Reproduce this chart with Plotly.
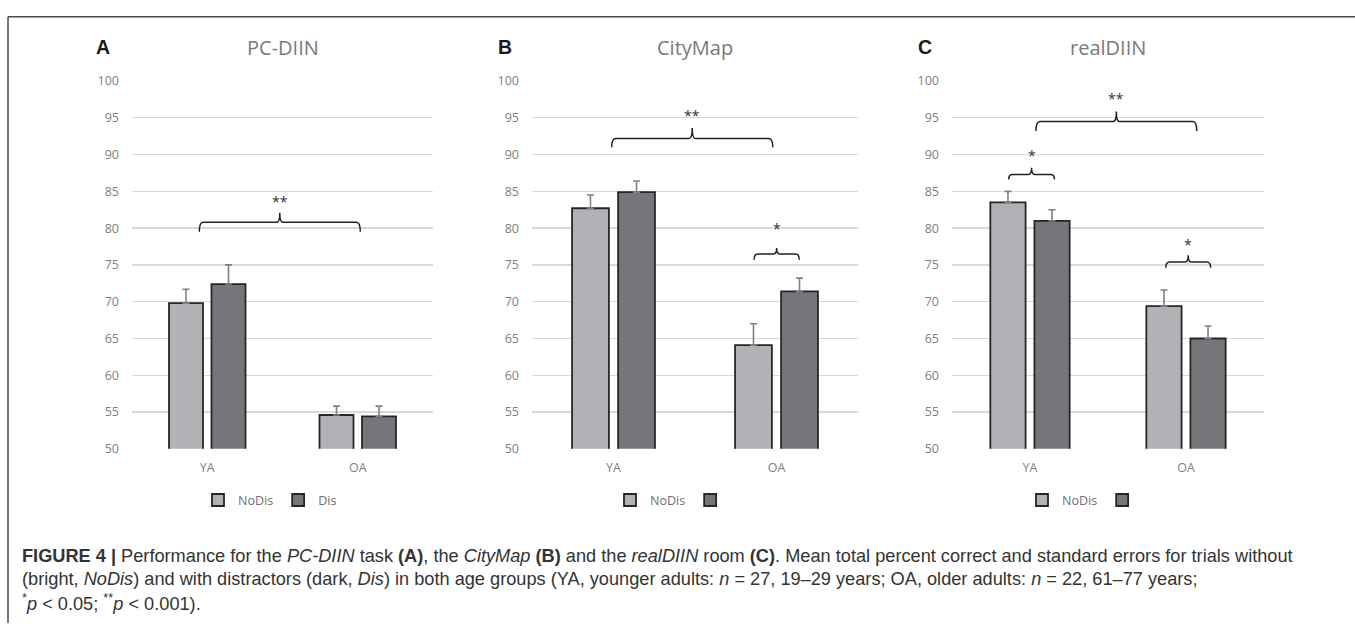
import plotly.graph_objects as go

# ---------------- data ----------------
groups = ["YA", "OA"]
group_pos = [0, 1]
y_ticks = [50, 55, 60, 65, 70, 75, 80, 85, 90, 95, 100]
panel_titles = ["PC-DIIN", "CityMap", "realDIIN"]
panel_letters = ["A", "B", "C"]

pc_nodis = [69.8, 54.6]
pc_nodis_se = [1.9, 1.2]
pc_dis = [72.4, 54.4]
pc_dis_se = [2.6, 1.4]

city_nodis = [82.7, 64.1]
city_nodis_se = [1.8, 2.9]
city_dis = [84.9, 71.4]
city_dis_se = [1.5, 1.8]

real_nodis = [83.5, 69.4]
real_nodis_se = [1.5, 2.2]
real_dis = [81.0, 65.0]
real_dis_se = [1.5, 1.7]

legend_nodis = ["NoDis", "NoDis", "NoDis"]
legend_dis = ["Dis", "", ""]

# ---------------- layout helpers ----------------
W, H = 1355, 631
def px_x(p): return p / W
def px_y(p): return 1 - p / H

x_domains = [(132, 433), (532, 858), (952, 1264)]
y_domain = [px_y(452), px_y(74)]

C_NODIS = "#b1b2b6"
C_DIS = "#75767a"
C_EDGE = "#262626"
C_ERR = "#808080"
C_TICK = "#808080"
C_GRID = "#d9d9d9"
FONT = "Open Sans"

panels = [
    (pc_nodis, pc_nodis_se, pc_dis, pc_dis_se),
    (city_nodis, city_nodis_se, city_dis, city_dis_se),
    (real_nodis, real_nodis_se, real_dis, real_dis_se),
]

fig = go.Figure()
legend_ids = ["legend", "legend2", "legend3"]

for i, (nd, nd_se, d, d_se) in enumerate(panels):
    xa = "x" if i == 0 else f"x{i+1}"
    ya = "y" if i == 0 else f"y{i+1}"
    for vals, se, col, name in [(nd, nd_se, C_NODIS, legend_nodis[i]),
                                (d, d_se, C_DIS, legend_dis[i])]:
        fig.add_trace(go.Bar(
            x=group_pos, y=vals, name=name, xaxis=xa, yaxis=ya,
            legend=legend_ids[i], showlegend=True,
            marker=dict(color=col, line=dict(color=C_EDGE, width=1.8)),
            error_y=dict(type="data", array=se, arrayminus=[0] * len(se),
                         symmetric=False, color=C_ERR, thickness=1.6, width=3.5),
        ))

layout = dict(
    width=W, height=H, margin=dict(l=0, r=0, t=0, b=0),
    paper_bgcolor="white", plot_bgcolor="white",
    barmode="group", bargap=0.435, bargroupgap=0.2,
    font=dict(family=FONT, color=C_TICK),
)
for i in range(3):
    sx = "" if i == 0 else str(i + 1)
    x0, x1 = x_domains[i]
    layout[f"xaxis{sx}"] = dict(
        domain=[px_x(x0), px_x(x1)], range=[-0.5, 1.5],
        tickmode="array", tickvals=group_pos, ticktext=groups,
        showgrid=False, zeroline=False, showline=False, ticks="",
        tickfont=dict(family=FONT, size=12.5, color=C_TICK),
        ticklabelstandoff=10, anchor=f"y{sx}", fixedrange=True,
    )
    layout[f"yaxis{sx}"] = dict(
        domain=y_domain, range=[50, 100],
        tickmode="array", tickvals=y_ticks,
        showgrid=True, gridcolor=C_GRID, gridwidth=1.3,
        zeroline=False, showline=False, ticks="",
        tickfont=dict(family=FONT, size=12.5, color=C_TICK),
        ticklabelstandoff=12, anchor=f"x{sx}", fixedrange=True,
    )

legend_centers = [270, 673, 1085]
for i, lid in enumerate(legend_ids):
    layout[lid] = dict(
        orientation="h", x=px_x(legend_centers[i]), xanchor="center",
        y=px_y(505), yanchor="middle", bgcolor="rgba(0,0,0,0)",
        font=dict(family=FONT, size=12.5, color="#6e6e6e"),
        itemwidth=30, tracegroupgap=0, itemclick=False,
    )
fig.update_layout(**layout)

# ---------------- titles and panel letters ----------------
letter_x = [102.5, 504.5, 924.5]
for i in range(3):
    x0, x1 = x_domains[i]
    fig.add_annotation(text=panel_titles[i], xref="paper", yref="paper",
                       x=px_x((x0 + x1) / 2), y=px_y(40), xanchor="center", yanchor="middle",
                       showarrow=False, font=dict(family=FONT, size=20, color="#7a7a7a"))
    fig.add_annotation(text=f"<b>{panel_letters[i]}</b>", xref="paper", yref="paper",
                       x=px_x(letter_x[i]), y=px_y(39), xanchor="center", yanchor="middle",
                       showarrow=False, font=dict(family="Liberation Sans", size=19.5, color="#1a1a1a"))

# ---------------- significance braces ----------------
# (panel, x_start, x_end, y_end, y_line, y_tip, label, label_y)
braces = [
    (0, -0.053, 1.017, 79.5, 80.8, 82.1, "**", 83.6),
    (1, -0.011, 0.977, 91.0, 92.2, 93.6, "**", 95.3),
    (1, 0.862, 1.140, 75.7, 76.5, 77.3, "*", 79.9),
    (2, 0.038, 1.069, 93.2, 94.5, 95.85, "**", 97.6),
    (2, -0.137, 0.157, 86.6, 87.3, 88.2, "*", 89.9),
    (2, 0.870, 1.158, 74.6, 75.4, 76.3, "*", 77.8),
]
for (p, bx0, bx1, ye, yl, yt, lab, ly) in braces:
    sx = "" if p == 0 else str(p + 1)
    d0, d1 = x_domains[p]
    cat_px = (d1 - d0) / 2.0
    re_ = 4.0 / cat_px
    rm = 3.0 / cat_px
    xm = (bx0 + bx1) / 2
    path = (f"M{bx0},{ye} Q{bx0},{yl} {bx0+re_},{yl} L{xm-rm},{yl} "
            f"Q{xm},{yl} {xm},{yt} Q{xm},{yl} {xm+rm},{yl} "
            f"L{bx1-re_},{yl} Q{bx1},{yl} {bx1},{ye}")
    fig.add_shape(type="path", path=path, xref=f"x{sx}", yref=f"y{sx}",
                  line=dict(color="#222222", width=1.5), layer="above")
    fig.add_annotation(text=lab, x=xm, y=ly, xref=f"x{sx}", yref=f"y{sx}",
                       showarrow=False, xanchor="center", yanchor="middle",
                       font=dict(family=FONT, size=14, color="#333333"))

# ---------------- frame ----------------
fig.add_shape(type="line", xref="paper", yref="paper", x0=px_x(8), x1=1, y0=px_y(8), y1=px_y(8),
              line=dict(color="#4a4a4a", width=1.5))
fig.add_shape(type="line", xref="paper", yref="paper", x0=px_x(8), x1=px_x(8), y0=px_y(8), y1=0,
              line=dict(color="#4a4a4a", width=1.5))

# ---------------- caption ----------------
cap_font = dict(family="Liberation Sans", size=18.2, color="#333333")
caption_lines = [
    "<b>FIGURE 4 |</b> Performance for the <i>PC-DIIN</i> task <b>(A)</b>, the <i>CityMap</i> <b>(B)</b> "
    "and the <i>realDIIN</i> room <b>(C)</b>. Mean total percent correct and standard errors for trials without",
    "(bright, <i>NoDis</i>) and with distractors (dark, <i>Dis</i>) in both age groups (YA, younger adults: "
    "<i>n</i> = 27, 19–29 years; OA, older adults: <i>n</i> = 22, 61–77 years;",
    "<sup>*</sup><i>p</i> &lt; 0.05; <sup>**</sup><i>p</i> &lt; 0.001).",
]
cap_y = [562, 586, 609]
for txt, yy in zip(caption_lines, cap_y):
    fig.add_annotation(text=txt, xref="paper", yref="paper", x=px_x(20), y=px_y(yy),
                       xanchor="left", yanchor="middle", showarrow=False, font=cap_font, align="left")

fig.write_html("out.html",
               config={"displayModeBar": False, "staticPlot": True},
               post_script="document.body.style.margin='0px';document.body.style.overflow='hidden';")
